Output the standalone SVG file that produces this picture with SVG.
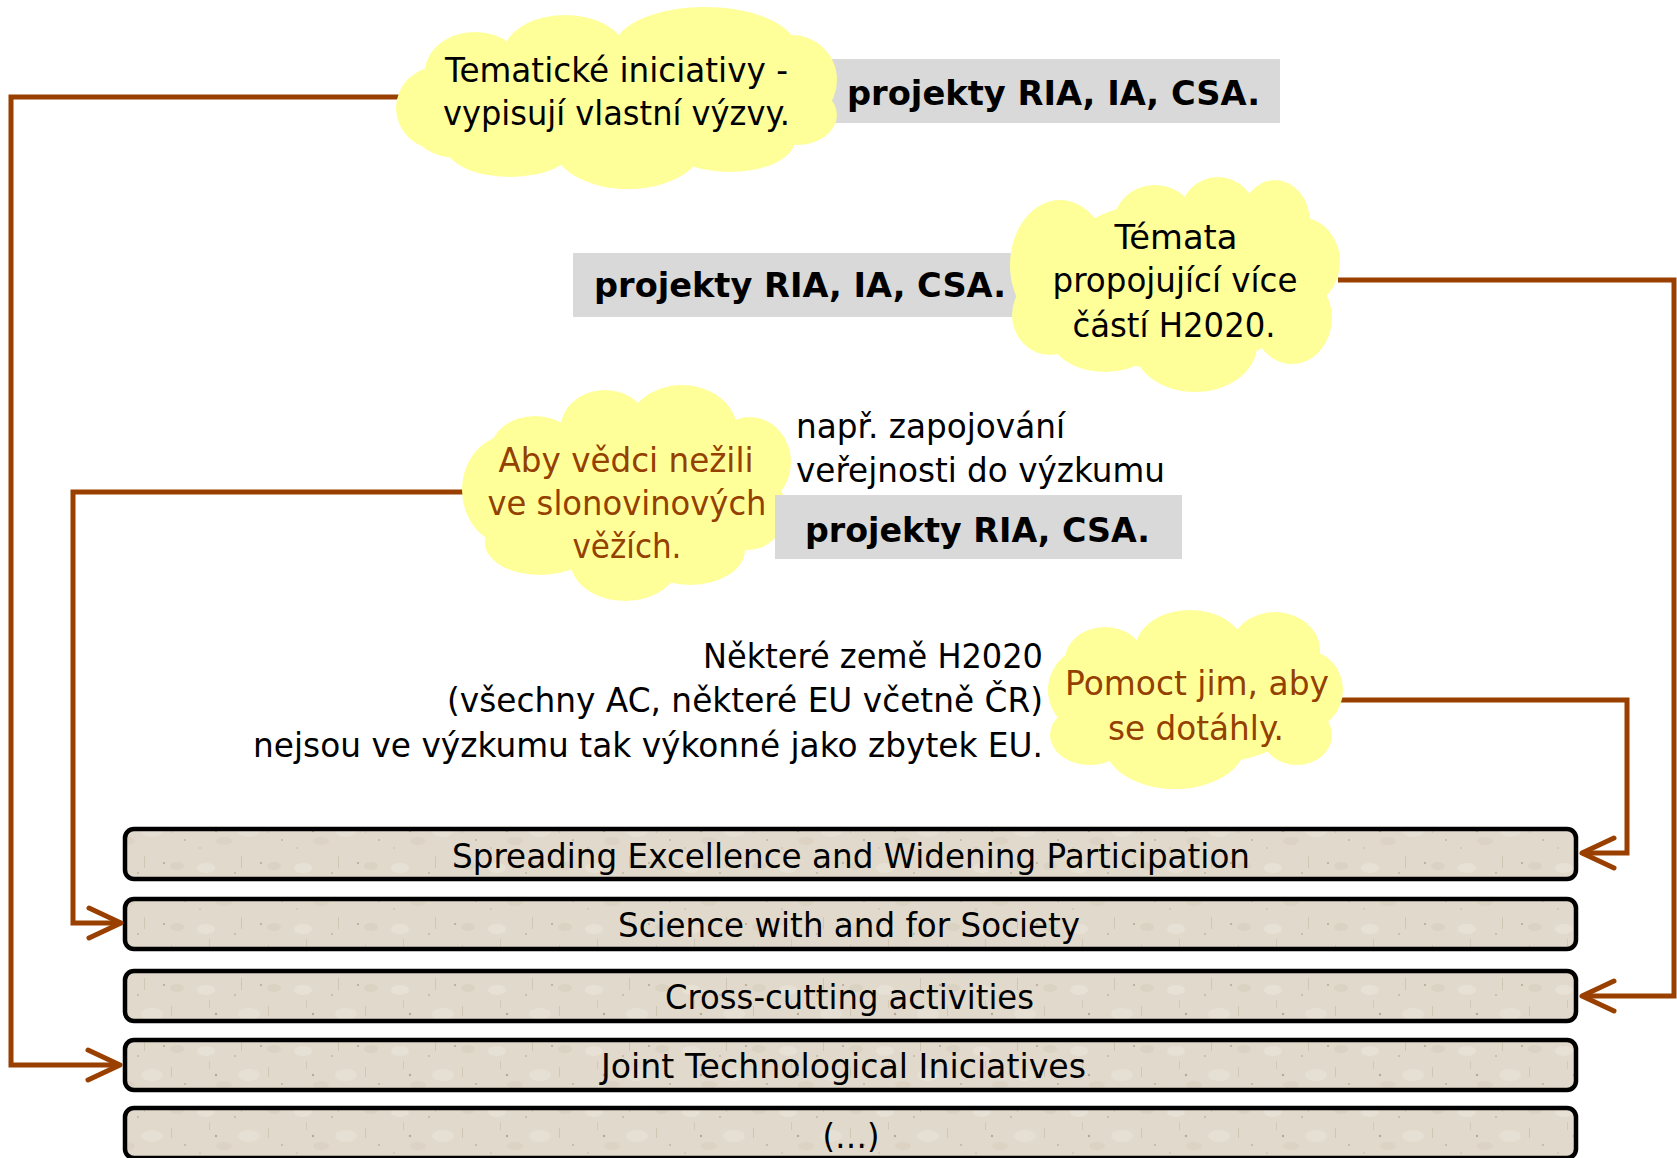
<svg xmlns="http://www.w3.org/2000/svg" width="1677" height="1158" viewBox="0 0 1677 1158">
<style>
text{font-family:"DejaVu Sans","Liberation Sans",sans-serif;font-size:34px;fill:#000}
.b{font-weight:bold}
.m{text-anchor:middle}
.e{text-anchor:end}
.br{fill:#934000}
.cloud ellipse{fill:#FFFF99}
.gray{fill:#D9D9D9}
.bar{fill:url(#tex);stroke:#000;stroke-width:4.5}
.conn{fill:none;stroke:#994000;stroke-width:5;stroke-linejoin:miter}
</style>
<defs>
<pattern id="tex" width="97" height="61" patternUnits="userSpaceOnUse">
<rect width="97" height="61" fill="#E1D9CB"/>
<ellipse cx="12" cy="14" rx="9" ry="5" fill="#E9E3D7" opacity="0.8"/>
<ellipse cx="55" cy="38" rx="11" ry="6" fill="#E9E3D7" opacity="0.7"/>
<ellipse cx="80" cy="12" rx="7" ry="4" fill="#D8CFBF" opacity="0.7"/>
<ellipse cx="30" cy="48" rx="8" ry="4" fill="#D8CFBF" opacity="0.6"/>
<circle cx="22" cy="38" r="1.2" fill="#B5AA95"/>
<circle cx="67" cy="9" r="1.1" fill="#B5AA95"/>
<circle cx="41" cy="19" r="0.9" fill="#BFB4A0"/>
<circle cx="88" cy="47" r="1" fill="#BFB4A0"/>
<circle cx="6" cy="55" r="0.8" fill="#C4B9A6"/>
<rect x="47" y="2" width="1" height="12" fill="#D0C6B4"/>
<rect x="74" y="30" width="1" height="10" fill="#D0C6B4"/>
<rect x="15" y="24" width="1" height="8" fill="#D3C9B8"/>
</pattern>
<marker id="arr" markerUnits="userSpaceOnUse" markerWidth="44" markerHeight="44" viewBox="-40 -22 44 44" refX="0" refY="0" orient="auto">
<path d="M-32,-15 L0,0 L-32,15" fill="none" stroke="#994000" stroke-width="5" stroke-linecap="round" stroke-linejoin="round"/>
</marker>
</defs>
<rect width="1677" height="1158" fill="#FFFFFF"/>

<g id="bar1"><rect class="bar" x="125" y="829" width="1451" height="50" rx="9"/><text class="m" x="851" y="868" textLength="798" lengthAdjust="spacingAndGlyphs">Spreading Excellence and Widening Participation</text></g>
<g id="bar2"><rect class="bar" x="125" y="899" width="1451" height="50" rx="9"/><text class="m" x="849" y="937" textLength="462" lengthAdjust="spacingAndGlyphs">Science with and for Society</text></g>
<g id="bar3"><rect class="bar" x="125" y="971" width="1451" height="50" rx="9"/><text class="m" x="849.5" y="1009" textLength="369" lengthAdjust="spacingAndGlyphs">Cross-cutting activities</text></g>
<g id="bar4"><rect class="bar" x="125" y="1040" width="1451" height="50" rx="9"/><text class="m" x="843.5" y="1078" textLength="485" lengthAdjust="spacingAndGlyphs">Joint Technological Iniciatives</text></g>
<g id="bar5"><rect class="bar" x="125" y="1108" width="1451" height="50" rx="9"/><text class="m" x="851" y="1148" textLength="57" lengthAdjust="spacingAndGlyphs">(…)</text></g>

<g id="connectors">
<polyline class="conn" points="400,97 11,97 11,1065 120,1065" marker-end="url(#arr)"/>
<polyline class="conn" points="1338,280 1674,280 1674,996 1582,996" marker-end="url(#arr)"/>
<polyline class="conn" points="465,492 73,492 73,923 121,923" marker-end="url(#arr)"/>
<polyline class="conn" points="1340,700 1627,700 1627,853 1582,853" marker-end="url(#arr)"/>
</g>

<g id="box1"><rect class="gray" x="790" y="59" width="490" height="64"/><text class="b" x="847" y="105" textLength="413" lengthAdjust="spacingAndGlyphs">projekty RIA, IA, CSA.</text></g>
<g id="box2"><rect class="gray" x="573" y="253" width="460" height="64"/><text class="b" x="594" y="297" textLength="412" lengthAdjust="spacingAndGlyphs">projekty RIA, IA, CSA.</text></g>

<g id="cloud1" class="cloud">
<ellipse cx="617" cy="100" rx="200" ry="65"/>
<ellipse cx="440" cy="108" rx="44" ry="42"/>
<ellipse cx="475" cy="72" rx="50" ry="40"/>
<ellipse cx="565" cy="55" rx="62" ry="40"/>
<ellipse cx="705" cy="50" rx="92" ry="43"/>
<ellipse cx="792" cy="80" rx="45" ry="45"/>
<ellipse cx="797" cy="115" rx="40" ry="30"/>
<ellipse cx="730" cy="140" rx="65" ry="32"/>
<ellipse cx="628" cy="145" rx="75" ry="44"/>
<ellipse cx="510" cy="145" rx="65" ry="32"/>
<ellipse cx="458" cy="128" rx="45" ry="30"/>
<text class="m" x="616.5" y="82" textLength="343" lengthAdjust="spacingAndGlyphs">Tematické iniciativy -</text>
<text class="m" x="616.5" y="125" textLength="347" lengthAdjust="spacingAndGlyphs">vypisují vlastní výzvy.</text>
</g>

<g id="cloud2" class="cloud">
<ellipse cx="1175" cy="285" rx="130" ry="85"/>
<ellipse cx="1060" cy="265" rx="50" ry="65"/>
<ellipse cx="1155" cy="225" rx="42" ry="40"/>
<ellipse cx="1218" cy="215" rx="38" ry="38"/>
<ellipse cx="1275" cy="222" rx="35" ry="42"/>
<ellipse cx="1300" cy="262" rx="40" ry="45"/>
<ellipse cx="1292" cy="318" rx="40" ry="46"/>
<ellipse cx="1195" cy="345" rx="62" ry="47"/>
<ellipse cx="1105" cy="335" rx="55" ry="37"/>
<ellipse cx="1050" cy="315" rx="38" ry="40"/>
<text class="m" x="1176" y="249" textLength="123" lengthAdjust="spacingAndGlyphs">Témata</text>
<text class="m" x="1175" y="292" textLength="245" lengthAdjust="spacingAndGlyphs">propojující více</text>
<text class="m" x="1174" y="337" textLength="203" lengthAdjust="spacingAndGlyphs">částí H2020.</text>
</g>

<g id="cloud3" class="cloud">
<ellipse cx="627" cy="495" rx="140" ry="80"/>
<ellipse cx="510" cy="490" rx="48" ry="55"/>
<ellipse cx="535" cy="452" rx="45" ry="36"/>
<ellipse cx="605" cy="430" rx="45" ry="40"/>
<ellipse cx="682" cy="430" rx="55" ry="45"/>
<ellipse cx="750" cy="462" rx="41" ry="45"/>
<ellipse cx="748" cy="510" rx="38" ry="40"/>
<ellipse cx="690" cy="550" rx="55" ry="35"/>
<ellipse cx="625" cy="560" rx="55" ry="41"/>
<ellipse cx="540" cy="543" rx="55" ry="32"/>
<text class="m br" x="626" y="472" textLength="255" lengthAdjust="spacingAndGlyphs">Aby vědci nežili</text>
<text class="m br" x="627" y="515" textLength="279" lengthAdjust="spacingAndGlyphs">ve slonovinových</text>
<text class="m br" x="627" y="558" textLength="109" lengthAdjust="spacingAndGlyphs">věžích.</text>
</g>

<g id="note1">
<text x="796" y="438" textLength="269" lengthAdjust="spacingAndGlyphs">např. zapojování</text>
<text x="796" y="482" textLength="369" lengthAdjust="spacingAndGlyphs">veřejnosti do výzkumu</text>
</g>

<g id="box3"><rect class="gray" x="775" y="495" width="407" height="64"/><text class="b" x="805" y="542" textLength="345" lengthAdjust="spacingAndGlyphs">projekty RIA, CSA.</text></g>

<g id="note2">
<text class="e" x="1043" y="668" textLength="340" lengthAdjust="spacingAndGlyphs">Některé země H2020</text>
<text class="e" x="1043" y="712" textLength="596" lengthAdjust="spacingAndGlyphs">(všechny AC, některé EU včetně ČR)</text>
<text class="e" x="1043" y="757" textLength="790" lengthAdjust="spacingAndGlyphs">nejsou ve výzkumu tak výkonné jako zbytek EU.</text>
</g>

<g id="cloud4" class="cloud">
<ellipse cx="1195" cy="700" rx="120" ry="65"/>
<ellipse cx="1095" cy="690" rx="47" ry="45"/>
<ellipse cx="1105" cy="660" rx="40" ry="33"/>
<ellipse cx="1190" cy="650" rx="55" ry="40"/>
<ellipse cx="1275" cy="650" rx="45" ry="38"/>
<ellipse cx="1305" cy="690" rx="38" ry="40"/>
<ellipse cx="1297" cy="735" rx="35" ry="30"/>
<ellipse cx="1175" cy="745" rx="70" ry="44"/>
<ellipse cx="1090" cy="735" rx="40" ry="30"/>
<text class="m br" x="1197" y="695" textLength="264" lengthAdjust="spacingAndGlyphs">Pomoct jim, aby</text>
<text class="m br" x="1196" y="740" textLength="176" lengthAdjust="spacingAndGlyphs">se dotáhly.</text>
</g>
</svg>
